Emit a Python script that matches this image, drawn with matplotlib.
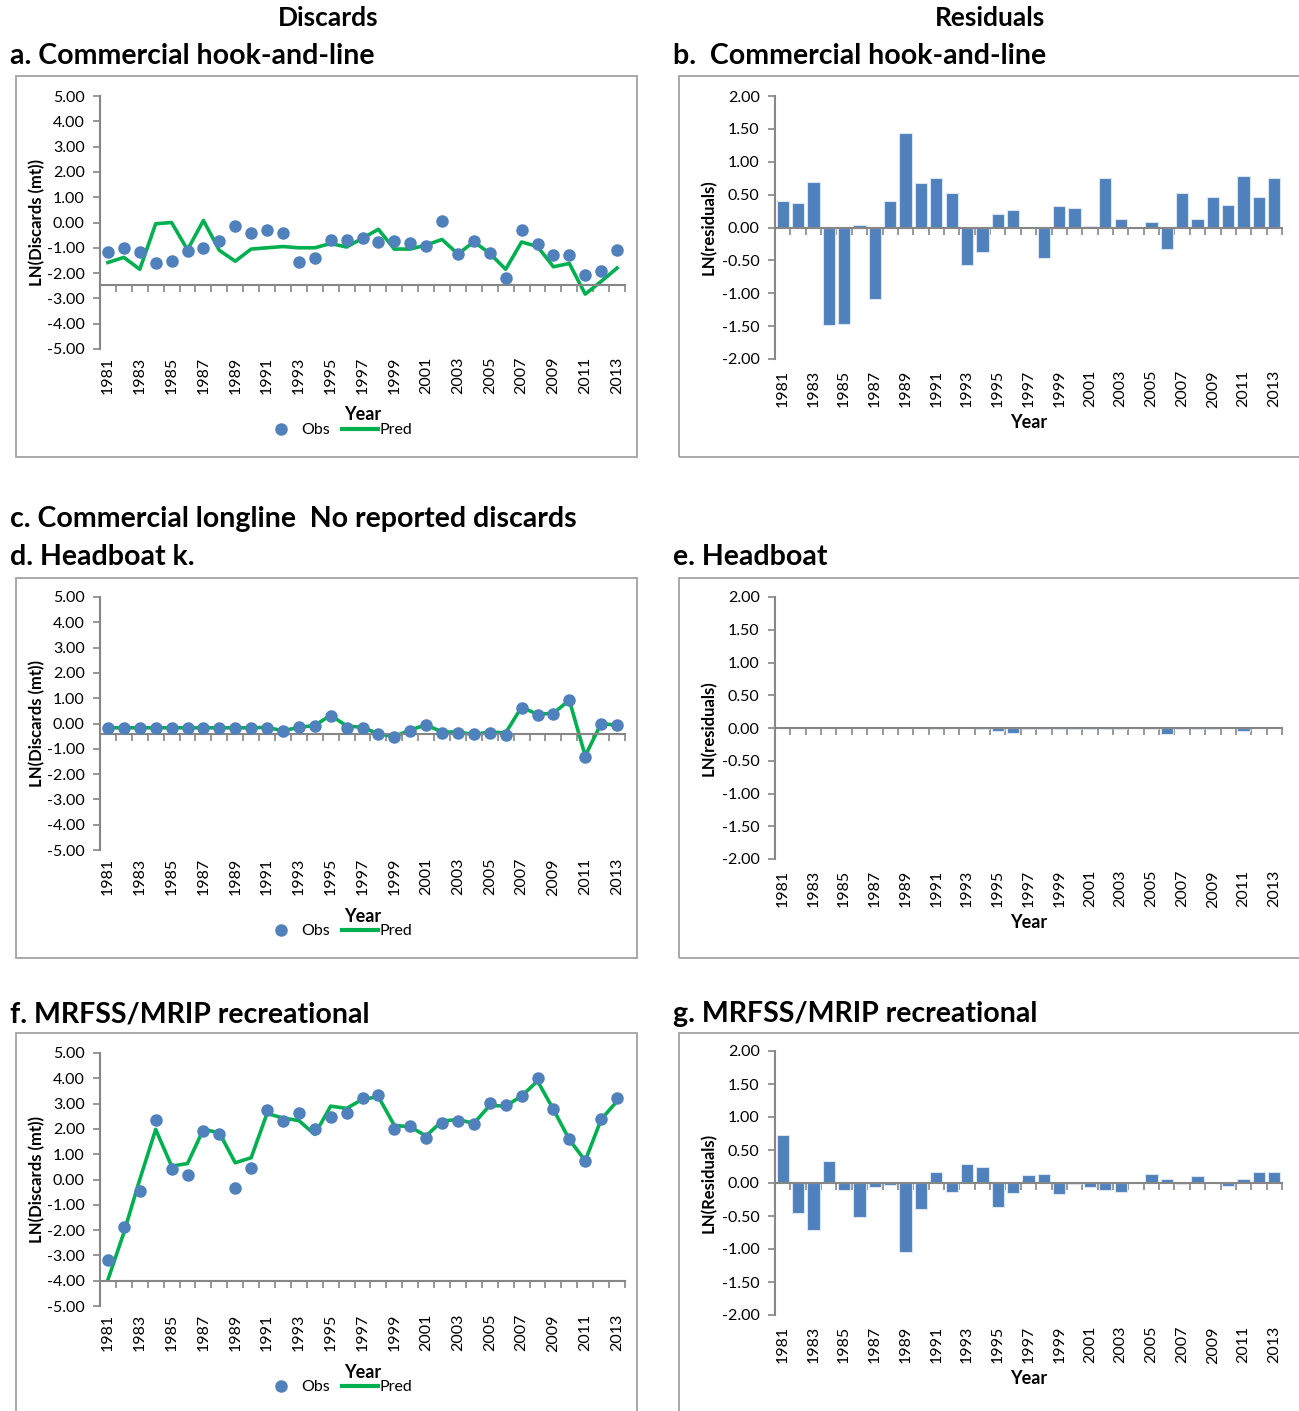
import matplotlib
matplotlib.use("Agg")
import matplotlib.pyplot as plt
from matplotlib.lines import Line2D
from matplotlib.patches import Rectangle
import matplotlib.transforms as mtransforms

plt.rcParams['font.family'] = ['Lato', 'DejaVu Sans']

years = list(range(1981, 2014))

# a/b commercial hook-and-line
hl_obs = [-1.17, -1.0, -1.18, -1.6, -1.53, -1.14, -1.0, -0.72, -0.14, -0.4, -0.28,
          -0.4, -1.58, -1.4, -0.68, -0.68, -0.62, -0.77, -0.75, -0.8, -0.92, 0.07,
          -1.25, -0.75, -1.2, -2.2, -0.3, -0.85, -1.28, -1.28, -2.08, -1.9, -1.07]
hl_pred = [-1.58, -1.38, -1.85, -0.05, 0.0, -1.08, 0.08, -1.1, -1.53, -1.05, -1.0,
           -0.95, -1.0, -1.0, -0.83, -0.97, -0.62, -0.27, -1.05, -1.05, -0.89, -0.67,
           -1.25, -0.76, -1.22, -1.85, -0.77, -0.95, -1.75, -1.62, -2.83, -2.33, -1.8]
hl_resid = [0.41, 0.37, 0.69, -1.49, -1.47, 0.045, -1.09, 0.41, 1.43, 0.67, 0.75,
            0.53, -0.57, -0.37, 0.2, 0.27, 0.0, -0.47, 0.32, 0.29, 0.025, 0.75,
            0.13, 0.0, 0.09, -0.33, 0.53, 0.13, 0.46, 0.34, 0.78, 0.46, 0.76]

# d/e headboat
hb_obs = [-0.17, -0.17, -0.17, -0.17, -0.17, -0.17, -0.17, -0.17, -0.17, -0.17, -0.17,
          -0.29, -0.15, -0.1, 0.29, -0.17, -0.17, -0.43, -0.53, -0.28, -0.07, -0.36,
          -0.36, -0.43, -0.36, -0.46, 0.63, 0.34, 0.39, 0.92, -1.32, 0.0, -0.07]
hb_pred = [-0.17, -0.17, -0.17, -0.17, -0.17, -0.17, -0.17, -0.17, -0.17, -0.17, -0.15,
           -0.29, -0.15, -0.08, 0.33, -0.10, -0.15, -0.41, -0.51, -0.26, -0.05, -0.34,
           -0.34, -0.43, -0.34, -0.37, 0.65, 0.36, 0.41, 0.92, -1.28, 0.0, -0.07]
hb_resid = [0.0, 0.0, 0.0, 0.0, 0.0, 0.0, 0.0, 0.0, 0.0, 0.0, -0.02,
            0.0, 0.0, -0.02, -0.04, -0.07, -0.02, -0.02, -0.02, -0.02, -0.02, -0.02,
            -0.02, 0.0, -0.02, -0.09, -0.02, -0.02, -0.02, 0.0, -0.04, 0.0, 0.0]

# f/g MRFSS/MRIP recreational
rec_obs = [-3.17, -1.89, -0.47, 2.34, 0.40, 0.16, 1.90, 1.79, -0.32, 0.46, 2.73,
           2.31, 2.64, 2.0, 2.48, 2.64, 3.23, 3.34, 2.0, 2.11, 1.66, 2.22,
           2.31, 2.18, 3.03, 2.94, 3.30, 4.0, 2.78, 1.61, 0.74, 2.41, 3.21]
rec_pred = [-3.96, -2.1, 0.0, 1.98, 0.53, 0.63, 1.98, 1.85, 0.66, 0.86, 2.61,
            2.43, 2.33, 1.78, 2.9, 2.81, 3.17, 3.27, 2.14, 2.08, 1.72, 2.31,
            2.37, 2.22, 2.93, 2.9, 3.3, 3.89, 2.77, 1.58, 0.74, 2.37, 3.1]
rec_resid = [0.72, -0.45, -0.71, 0.34, -0.11, -0.51, -0.06, -0.03, -1.04, -0.39, 0.17,
             -0.13, 0.29, 0.24, -0.37, -0.15, 0.12, 0.14, -0.17, -0.01, -0.06, -0.11,
             -0.13, 0.0, 0.14, 0.06, -0.02, 0.10, 0.0, -0.05, 0.06, 0.17, 0.16]

W, H = 1299, 1411
BLUE = '#4F81BD'
GREEN = '#00B050'
GRAY = '#868686'
TICK_FS = 11.5

fig = plt.figure(figsize=(W / 100, H / 100), dpi=100)


def fbox(x0, y0, x1, y1):
    return [x0 / W, 1 - y1 / H, (x1 - x0) / W, (y1 - y0) / H]


def ftext(x, y, s, **kw):
    fig.text(x / W, 1 - y / H, s, **kw)


def frame(x0, y0, x1, y1):
    fig.add_artist(Rectangle((x0 / W, 1 - y1 / H), (x1 - x0) / W, (y1 - y0) / H,
                             transform=fig.transFigure, fill=False,
                             edgecolor='#a3a3a3', lw=1.3))


def style_axes(ax, ymin, ymax, step, xcross, label, lab_x, lab_gap, year_y):
    n = len(years)
    ax.set_xlim(-0.5, n - 0.5)
    ax.set_ylim(ymin, ymax)
    for s in ['top', 'right']:
        ax.spines[s].set_visible(False)
    ax.spines['left'].set_color(GRAY)
    ax.spines['left'].set_linewidth(1.5)
    ax.spines['bottom'].set_color(GRAY)
    ax.spines['bottom'].set_linewidth(1.5)
    ax.spines['bottom'].set_position(('data', xcross))
    yt = []
    v = ymin
    while v <= ymax + 1e-9:
        yt.append(round(v, 2))
        v += step
    ax.set_yticks(yt)
    ax.set_yticklabels(['%.2f' % t for t in yt], fontsize=TICK_FS)
    ax.tick_params(axis='y', direction='out', length=5, width=1.2, color=GRAY, pad=6)
    ax.set_xticks([i - 0.5 for i in range(n + 1)])
    ax.set_xticklabels([])
    ax.tick_params(axis='x', direction='out', length=5, width=1.2, color=GRAY)
    trans = mtransforms.blended_transform_factory(ax.transData, ax.transAxes)
    bbox_h = ax.get_position().height * H
    for i in range(0, n, 2):
        ax.text(i, -lab_gap / bbox_h, str(years[i]), transform=trans, rotation=90,
                ha='center', va='top', fontsize=TICK_FS)
    ax.set_ylabel(label, fontsize=12, fontweight='bold')
    bbox_w = ax.get_position().width * W
    ax.yaxis.set_label_coords(lab_x / bbox_w, 0.5)
    ax.text(0.5, -year_y / bbox_h, 'Year', transform=ax.transAxes, ha='center',
            va='center', fontsize=13, fontweight='bold')


def line_panel(box, obs, pred, xcross):
    ax = fig.add_axes(fbox(*box))
    idx = list(range(len(years)))
    ax.plot(idx, pred, color=GREEN, lw=2.6, zorder=2, clip_on=False)
    ax.plot(idx, obs, 'o', color=BLUE, ms=8, zorder=3, clip_on=False)
    style_axes(ax, -5, 5, 1, xcross, 'LN(Discards (mt))', -55, 8, 66)
    h_obs = Line2D([], [], color=BLUE, marker='o', ls='none', ms=8)
    h_pred = Line2D([], [], color=GREEN, lw=3)
    bh = ax.get_position().height * H
    bw = ax.get_position().width * W
    ax.legend([h_obs, h_pred], ['Obs', 'Pred'], ncol=2, frameon=False,
              loc='center', bbox_to_anchor=(238 / bw, -81 / bh),
              fontsize=11.5, handlelength=2.2, handletextpad=0.15,
              columnspacing=0.8, borderpad=0)
    return ax


def bar_panel(box, resid, label):
    ax = fig.add_axes(fbox(*box))
    idx = list(range(len(years)))
    ax.bar(idx, resid, width=0.8, color=BLUE, edgecolor='#dbe5f1', lw=0.8, zorder=2)
    style_axes(ax, -2, 2, 0.5, 0, label, -58, 11, 64)
    return ax


# frames
frame(16, 76, 637, 457)
frame(679, 76, 1305, 457)
frame(16, 578, 637, 958)
frame(679, 578, 1305, 958)
frame(16, 1033, 637, 1420)
frame(679, 1033, 1305, 1420)

# panels
line_panel((100, 96, 625, 349), hl_obs, hl_pred, -2.47)
bar_panel((775, 96, 1282, 359), hl_resid, 'LN(residuals)')
line_panel((100, 597, 625, 850), hb_obs, hb_pred, -0.41)
bar_panel((775, 597, 1282, 859), hb_resid, 'LN(residuals)')
line_panel((100, 1053, 625, 1306), rec_obs, rec_pred, -4.0)
bar_panel((775, 1051, 1282, 1315), rec_resid, 'LN(Residuals)')

# headings
TFS = 20.5
ftext(328, 18, 'Discards', ha='center', va='center', fontsize=19, fontweight='bold')
ftext(990, 18, 'Residuals', ha='center', va='center', fontsize=19, fontweight='bold')
ftext(10, 56, 'a. Commercial hook-and-line', va='center', fontsize=TFS, fontweight='bold')
ftext(673, 56, 'b.  Commercial hook-and-line', va='center', fontsize=TFS, fontweight='bold')
ftext(10, 519, 'c. Commercial longline  No reported discards', va='center', fontsize=TFS, fontweight='bold')
ftext(10, 557, 'd. Headboat k.', va='center', fontsize=TFS, fontweight='bold')
ftext(673, 557, 'e. Headboat', va='center', fontsize=TFS, fontweight='bold')
ftext(10, 1014, 'f. MRFSS/MRIP recreational', va='center', fontsize=TFS, fontweight='bold')
ftext(673, 1014, 'g. MRFSS/MRIP recreational', va='center', fontsize=TFS, fontweight='bold')

fig.savefig('out.png', dpi=100)
